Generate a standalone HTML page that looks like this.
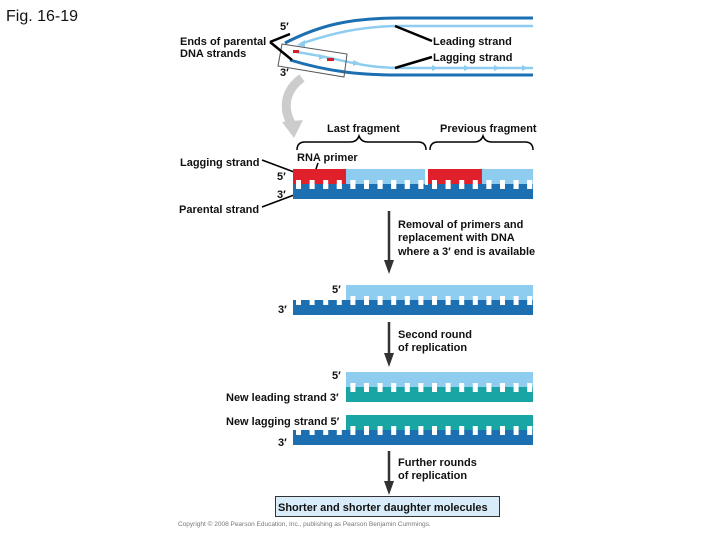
<!DOCTYPE html>
<html><head><meta charset="utf-8"><style>
body{margin:0;background:#fff;}
svg{display:block;font-family:"Liberation Sans",Arial,sans-serif;}
.t{font-size:11px;font-weight:bold;fill:#111;}
</style></head><body>
<svg id="s" width="720" height="540" viewBox="0 0 720 540" xmlns="http://www.w3.org/2000/svg">
<text x="6" y="21" font-size="16" fill="#111">Fig. 16-19</text>
<!-- fork -->
<path d="M285,43 C320,25 350,18 400,18 L533,18" stroke="#1c6fb0" stroke-width="3" fill="none"/>
<path d="M290,60 C330,72 360,75 400,75 L533,75" stroke="#1c6fb0" stroke-width="3" fill="none"/>
<path d="M533,26 L400,26 C360,26 330,34 300,44" stroke="#8fcdf0" stroke-width="2.5" fill="none"/>
<polygon points="297,45 305,40 305,47" fill="#8fcdf0"/>
<path d="M296,52 C340,58 360,68 400,68 L533,68" stroke="#8fcdf0" stroke-width="2.5" fill="none"/>
<g fill="#8fcdf0"><polygon points="326,57 319,54 319,60"/><polygon points="360,63 353,60 353,66"/><polygon points="438,68 432,65 432,71"/><polygon points="470,68 464,65 464,71"/><polygon points="500,68 494,65 494,71"/><polygon points="528,68 522,65 522,71"/></g>
<rect x="293" y="50" width="6" height="3" fill="#d0202a"/><rect x="327" y="58" width="7" height="3" fill="#d0202a"/>
<polygon points="282,44 347,54 344,77 278,66" fill="none" stroke="#555" stroke-width="1"/>
<path d="M270,42 L290,34 M270,42 L292,60 M395,26 L432,41 M395,68 L432,57" stroke="#000" stroke-width="2.5" fill="none"/>
<text x="180" y="45" class="t">Ends of parental</text><text x="180" y="57" class="t">DNA strands</text>
<text x="280" y="30" class="t">5′</text><text x="280" y="76" class="t">3′</text>
<text x="433" y="45" class="t">Leading strand</text><text x="433" y="61" class="t">Lagging strand</text>
<!-- gray curved arrow -->
<path d="M302,78 C285,90 282,108 292,125" stroke="#ccc" stroke-width="9" fill="none"/>
<polygon points="282,122 303,120 294,138" fill="#ccc"/>
<text x="327" y="132" class="t">Last fragment</text><text x="440" y="132" class="t">Previous fragment</text>
<path d="M297,150 Q297,142 305,142 L350,142 Q357,142 359,136 Q361,142 368,142 L418,142 Q426,142 426,150" stroke="#000" stroke-width="1.5" fill="none"/>
<path d="M430,150 Q430,142 438,142 L474,142 Q481,142 483,136 Q485,142 492,142 L525,142 Q533,142 533,150" stroke="#000" stroke-width="1.5" fill="none"/>
<text x="180" y="166" class="t">Lagging strand</text>
<text x="179" y="213" class="t">Parental strand</text>
<text x="297" y="161" class="t">RNA primer</text>
<path d="M262,160 L294,172 M262,207 L294,195" stroke="#000" stroke-width="1.5"/>
<path d="M318,163 L314,175" stroke="#000" stroke-width="1.5"/>
<g id="d"></g>
<text x="277" y="180" class="t">5′</text><text x="277" y="198" class="t">3′</text>
<!-- arrows -->
<g stroke="#333" stroke-width="2.5"><line x1="389" y1="211" x2="389" y2="262"/><line x1="389" y1="322" x2="389" y2="355"/><line x1="389" y1="451" x2="389" y2="483"/></g>
<g fill="#333"><polygon points="384,260 394,260 389,274"/><polygon points="384,353 394,353 389,367"/><polygon points="384,481 394,481 389,495"/></g>
<text x="398" y="228" class="t">Removal of primers and</text><text x="398" y="241" class="t">replacement with DNA</text><text x="398" y="255" class="t">where a 3′ end is available</text>
<text x="332" y="293" class="t">5′</text><text x="278" y="313" class="t">3′</text>
<text x="398" y="338" class="t">Second round</text><text x="398" y="351" class="t">of replication</text>
<text x="332" y="379" class="t">5′</text>
<text x="226" y="401" class="t">New leading strand  3′</text>
<text x="226" y="425" class="t">New lagging strand  5′</text>
<text x="278" y="446" class="t">3′</text>
<text x="398" y="466" class="t">Further rounds</text><text x="398" y="479" class="t">of replication</text>
<rect x="275.5" y="496.5" width="224" height="20" fill="#d8edf9" stroke="#333"/>
<text x="278" y="511" class="t">Shorter and shorter daughter molecules</text>
<text x="178" y="526" font-size="6.5" fill="#777">Copyright © 2008 Pearson Education, Inc., publishing as Pearson Benjamin Cummings.</text>
</svg>
<script>
var g=document.getElementById('d'),ns='http://www.w3.org/2000/svg';
function r(x,y,w,h,c){var e=document.createElementNS(ns,'rect');e.setAttribute('x',x);e.setAttribute('y',y);e.setAttribute('width',w);e.setAttribute('height',h);e.setAttribute('fill',c);g.appendChild(e);}
function dup(T,tx,tc,bx,bc){
 r(tx,T,533-tx,11,tc);r(tx,T+11,533-tx,5,tc);
 r(bx,T+15,533-bx,5,bc);r(bx,T+20,533-bx,10,bc);
 for(var x=296;x<530;x+=13.6){ if(x+5>bx) r(Math.max(x,bx),T+11,5,9,'#fff'); }
}
var L='#8fcdf0',D='#1c6fb0',C='#1aa5a5';
dup(169,293,L,293,D);
r(293,169,53,11,'#e0202a');r(293,180,53,4,'#e0202a');r(428,169,54,11,'#e0202a');r(428,180,54,4,'#e0202a');
r(425,169,3,16,'#fff');
for(var x=296;x<530;x+=13.6) r(x,180,5,9,'#fff');
dup(285,346,L,293,D);
dup(372,346,L,346,C);
dup(415,346,C,293,D);
</script>
</body></html>
